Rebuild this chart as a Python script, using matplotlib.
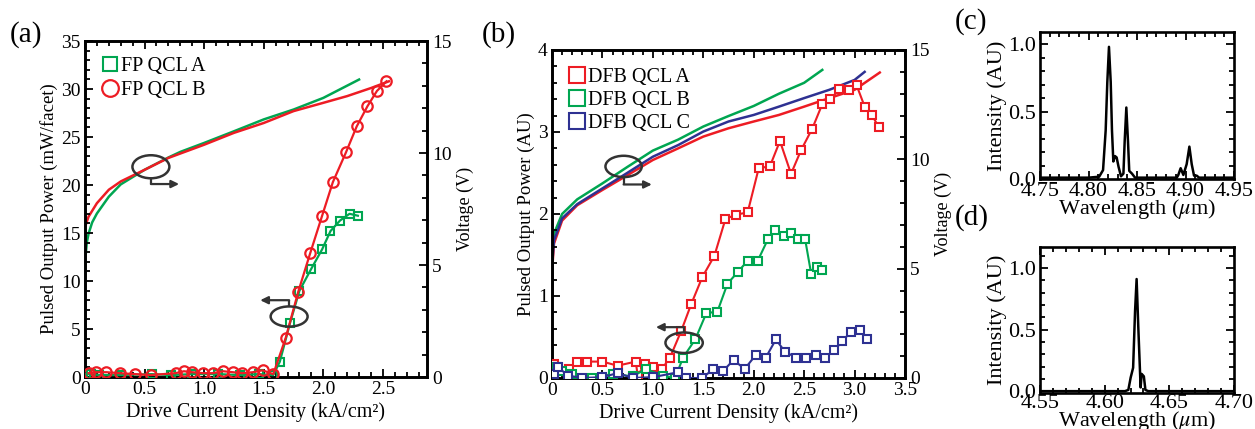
import matplotlib
matplotlib.use("Agg")
import matplotlib.pyplot as plt
from matplotlib.patches import Ellipse
from matplotlib.ticker import MultipleLocator, FuncFormatter

plt.rcParams['font.family'] = ['Liberation Serif', 'DejaVu Serif']
plt.rcParams['mathtext.fontset'] = 'stix'

RED = '#ED1C24'
GREEN = '#00A651'
BLUE = '#2E3192'

# ---------------- Panel (a) data ----------------
a_lab = ['FP QCL A', 'FP QCL B']
# L-I (left axis, mW/facet)
a_LI_A_x = [0.01, 0.05, 0.12, 0.30, 0.56, 0.72, 0.90, 1.12, 1.30, 1.46, 1.58, 1.635, 1.72, 1.80, 1.90, 1.99, 2.06, 2.14, 2.22, 2.29]
a_LI_A_y = [0.3, 0.3, 0.2, 0.2, 0.3, 0.2, 0.3, 0.3, 0.2, 0.3, 0.2, 1.6, 5.6, 9.0, 11.3, 13.3, 15.2, 16.3, 17.0, 16.8]
a_LI_B_x = [0.03, 0.09, 0.18, 0.29, 0.42, 0.55, 0.76, 0.83, 0.90, 0.99, 1.07, 1.16, 1.24, 1.32, 1.41, 1.49, 1.58, 1.685, 1.79, 1.89, 1.99, 2.08, 2.19, 2.28, 2.37, 2.45, 2.53]
a_LI_B_y = [0.4, 0.5, 0.5, 0.4, 0.3, 0.2, 0.4, 0.6, 0.5, 0.4, 0.4, 0.6, 0.5, 0.4, 0.5, 0.7, 0.3, 4.1, 8.9, 12.9, 16.8, 20.3, 23.4, 26.1, 28.2, 29.8, 30.8]
# I-V (right axis, V)
a_IV_A_x = [0.0, 0.005, 0.015, 0.03, 0.06, 0.1, 0.2, 0.3, 0.5, 0.7, 0.8, 1.0, 1.25, 1.5, 1.75, 2.0, 2.3]
a_IV_A_y = [4.5, 5.4, 6.0, 6.4, 6.9, 7.3, 8.05, 8.6, 9.25, 9.8, 10.05, 10.45, 10.97, 11.5, 11.94, 12.46, 13.28]
a_IV_B_x = [0.0, 0.03, 0.1, 0.2, 0.3, 0.5, 0.7, 1.0, 1.25, 1.5, 1.75, 2.0, 2.2, 2.4, 2.55]
a_IV_B_y = [6.7, 7.16, 7.76, 8.36, 8.73, 9.25, 9.78, 10.37, 10.9, 11.34, 11.87, 12.24, 12.54, 12.9, 13.2]

# ---------------- Panel (b) data ----------------
b_lab = ['DFB QCL A', 'DFB QCL B', 'DFB QCL C']
b_LI_A_x = [0.02, 0.05, 0.17, 0.25, 0.35, 0.50, 0.65, 0.83, 0.85, 0.92, 1.00, 1.09, 1.17, 1.28, 1.38, 1.49, 1.61, 1.72, 1.82, 1.94, 2.05, 2.16, 2.26, 2.37, 2.47, 2.58, 2.68, 2.76, 2.85, 2.94, 3.02, 3.10, 3.17, 3.24]
b_LI_A_y = [0.17, 0.13, 0.11, 0.20, 0.20, 0.20, 0.15, 0.20, 0.03, 0.17, 0.14, 0.11, 0.25, 0.57, 0.90, 1.23, 1.49, 1.94, 1.99, 2.02, 2.56, 2.58, 2.89, 2.49, 2.78, 3.04, 3.34, 3.40, 3.52, 3.51, 3.57, 3.31, 3.21, 3.06]
b_LI_B_x = [0.04, 0.10, 0.20, 0.40, 0.60, 0.80, 0.93, 1.10, 1.22, 1.30, 1.42, 1.53, 1.64, 1.74, 1.84, 1.94, 2.04, 2.14, 2.21, 2.30, 2.37, 2.44, 2.51, 2.57, 2.63, 2.68]
b_LI_B_y = [0.13, 0.08, 0.05, 0.00, 0.05, 0.02, 0.11, 0.03, 0.00, 0.25, 0.47, 0.79, 0.81, 1.15, 1.29, 1.43, 1.43, 1.69, 1.80, 1.73, 1.77, 1.69, 1.69, 1.27, 1.35, 1.32]
b_LI_C_x = [0.02, 0.06, 0.16, 0.30, 0.50, 0.65, 0.80, 1.00, 1.25, 1.33, 1.49, 1.60, 1.70, 1.80, 1.91, 2.02, 2.12, 2.22, 2.31, 2.42, 2.52, 2.62, 2.71, 2.80, 2.88, 2.96, 3.05, 3.12]
b_LI_C_y = [0.05, 0.13, 0.03, 0.00, 0.01, 0.06, 0.00, 0.01, 0.07, 0.00, 0.00, 0.11, 0.09, 0.22, 0.11, 0.28, 0.25, 0.47, 0.32, 0.25, 0.25, 0.28, 0.25, 0.34, 0.45, 0.56, 0.58, 0.48]
b_IV_A_x = [0.0, 0.005, 0.02, 0.1, 0.25, 0.5, 0.75, 1.0, 1.25, 1.5, 1.75, 2.0, 2.25, 2.5, 2.75, 3.0, 3.25]
b_IV_A_y = [3.6, 5.2, 6.15, 7.2, 7.9, 8.6, 9.28, 9.97, 10.5, 11.04, 11.42, 11.73, 12.03, 12.41, 12.8, 13.18, 13.97]
b_IV_B_x = [0.0, 0.005, 0.02, 0.1, 0.25, 0.5, 0.75, 1.0, 1.25, 1.5, 1.75, 2.0, 2.25, 2.5, 2.68]
b_IV_B_y = [4.2, 5.7, 6.6, 7.5, 8.17, 8.9, 9.66, 10.4, 10.9, 11.5, 11.98, 12.44, 13.0, 13.5, 14.09]
b_IV_C_x = [0.0, 0.005, 0.02, 0.1, 0.25, 0.5, 0.75, 1.0, 1.25, 1.5, 1.75, 2.0, 2.25, 2.5, 2.75, 3.0, 3.1]
b_IV_C_y = [3.9, 5.4, 6.3, 7.3, 7.95, 8.67, 9.39, 10.12, 10.65, 11.27, 11.73, 12.03, 12.41, 12.8, 13.18, 13.63, 14.0]

# ---------------- Panel (c) and (d) spectra ----------------
c_wl = [4.75, 4.80, 4.811, 4.815, 4.8177, 4.8194, 4.8211, 4.8229, 4.8242, 4.8256, 4.8273, 4.829, 4.831, 4.8335, 4.836,
        4.8373, 4.839, 4.8407, 4.842, 4.8448, 4.848, 4.891, 4.8926, 4.895, 4.8978, 4.9012, 4.904, 4.9064, 4.9088,
        4.9115, 4.914, 4.95]
c_int = [0.01, 0.01, 0.017, 0.066, 0.36, 0.72, 0.98, 0.72, 0.36, 0.13, 0.17, 0.16, 0.09, 0.02, 0.04,
         0.28, 0.53, 0.28, 0.06, 0.04, 0.01, 0.01, 0.03, 0.08, 0.03, 0.11, 0.24, 0.11, 0.025,
         0.025, 0.01, 0.01]
d_wl = [4.55, 4.6157, 4.6183, 4.6201, 4.622, 4.6235, 4.6247, 4.626, 4.6278, 4.6286, 4.6303, 4.6315, 4.6337, 4.70]
d_int = [0.0, 0.0, 0.01, 0.11, 0.19, 0.65, 0.91, 0.52, 0.03, 0.14, 0.12, 0.01, 0.0, 0.0]

W, H = 1255, 429
fig = plt.figure(figsize=(W / 100, H / 100), dpi=100)


def rect(l, r, t, b):
    return [l / W, (H - b) / H, (r - l) / W, (b - t) / H]


SP_LW = 1.9
xfmt = FuncFormatter(lambda v, p: '0' if abs(v) < 1e-9 else f'{v:.1f}')


def style(ax, xmaj, xmin, ymaj, ymin, size=14, right=True):
    ax.xaxis.set_major_locator(MultipleLocator(xmaj))
    ax.xaxis.set_minor_locator(MultipleLocator(xmin))
    ax.yaxis.set_major_locator(MultipleLocator(ymaj))
    ax.yaxis.set_minor_locator(MultipleLocator(ymin))
    ax.tick_params(which='both', direction='in', top=True, right=right, labelsize=size, width=1.3, pad=3)
    ax.tick_params(which='major', length=6)
    ax.tick_params(which='minor', length=3.5)
    for s in ax.spines.values():
        s.set_linewidth(SP_LW)


def bracket(ax, pts, lw=1.6):
    xs = [p[0] for p in pts]
    ys = [p[1] for p in pts]
    ax.plot(xs[:-1], ys[:-1], color='#333333', lw=lw, solid_capstyle='butt', zorder=6)
    ax.annotate('', xy=pts[-1], xytext=pts[-2],
                arrowprops=dict(arrowstyle='-|>,head_length=0.45,head_width=0.22', color='#333333', lw=lw,
                                shrinkA=0, shrinkB=0), zorder=6)


def right_axis(ax2):
    ax2.set_ylim(0, 15)
    ax2.yaxis.set_major_locator(MultipleLocator(5))
    ax2.yaxis.set_minor_locator(MultipleLocator(1))
    ax2.tick_params(which='both', direction='in', labelsize=14, width=1.3)
    ax2.tick_params(which='major', length=6)
    ax2.tick_params(which='minor', length=3.5)
    for s in ax2.spines.values():
        s.set_linewidth(SP_LW)


# ===== Panel (a) =====
axa = fig.add_axes(rect(85, 427, 41, 377))
axa2 = axa.twinx()
axa2.plot(a_IV_A_x, a_IV_A_y, color=GREEN, lw=1.8)
axa2.plot(a_IV_B_x, a_IV_B_y, color=RED, lw=1.8)
right_axis(axa2)
axa.plot(a_LI_A_x, a_LI_A_y, color=GREEN, lw=1.6, marker='s', ms=6, mfc='none', mec=GREEN, mew=1.5, label=a_lab[0], zorder=4)
axa.plot(a_LI_B_x, a_LI_B_y, color=RED, lw=1.6, marker='o', ms=7.5, mfc='none', mec=RED, mew=1.6, label=a_lab[1], zorder=4)
axa.set_xlim(0, 2.87)
axa.set_ylim(0, 35)
style(axa, 0.5, 0.1, 5, 1, right=False)
axa.xaxis.set_major_formatter(xfmt)
axa.set_zorder(axa2.get_zorder() + 1)
axa.patch.set_visible(False)
axa.set_xlabel('Drive Current Density (kA/cm²)', fontsize=14.5, labelpad=3)
axa.set_ylabel('Pulsed Output Power (mW/facet)', fontsize=13.5, labelpad=2)
axa2.set_ylabel('Voltage (V)', fontsize=13, labelpad=4)
axa.add_patch(Ellipse((0.553, 21.9), 0.31, 2.4, fill=False, ec='#333333', lw=1.8, zorder=6))
bracket(axa, [(0.553, 20.7), (0.553, 20.1), (0.79, 20.1)])
axa.add_patch(Ellipse((1.713, 6.3), 0.31, 2.1, fill=False, ec='#333333', lw=1.8, zorder=6))
bracket(axa, [(1.713, 7.35), (1.713, 8.0), (1.47, 8.0)])
leg = axa.legend(loc='upper left', bbox_to_anchor=(0.0, 1.0), frameon=False, fontsize=14.5,
                 handlelength=0.9, handletextpad=0.1, borderaxespad=0.4, labelspacing=0.25, markerscale=1.6)
for h in leg.legend_handles:
    h.set_linestyle('none')
fig.text(10 / W, 1 - 35 / H, '(a)', fontsize=21, va='center', ha='left')

# ===== Panel (b) =====
axb = fig.add_axes(rect(552, 905, 50, 378))
axb2 = axb.twinx()
axb2.plot(b_IV_A_x, b_IV_A_y, color=RED, lw=1.8)
axb2.plot(b_IV_B_x, b_IV_B_y, color=GREEN, lw=1.8)
axb2.plot(b_IV_C_x, b_IV_C_y, color=BLUE, lw=1.8)
right_axis(axb2)
for xs, ys, c, lab in [(b_LI_A_x, b_LI_A_y, RED, b_lab[0]), (b_LI_B_x, b_LI_B_y, GREEN, b_lab[1]),
                       (b_LI_C_x, b_LI_C_y, BLUE, b_lab[2])]:
    axb.plot(xs, ys, color=c, lw=1.5, marker='s', ms=6, mfc='white', mec=c, mew=1.5, label=lab, zorder=4)
axb.set_xlim(0, 3.5)
axb.set_ylim(0, 4)
style(axb, 0.5, 0.1, 1, 0.2, right=False)
axb.xaxis.set_major_formatter(xfmt)
axb.set_zorder(axb2.get_zorder() + 1)
axb.patch.set_visible(False)
axb.set_xlabel('Drive Current Density (kA/cm²)', fontsize=14.5, labelpad=3)
axb.set_ylabel('Pulsed Output Power (AU)', fontsize=13.5, labelpad=2)
axb2.set_ylabel('Voltage (V)', fontsize=13, labelpad=4)
axb.add_patch(Ellipse((0.71, 2.58), 0.36, 0.26, fill=False, ec='#333333', lw=1.8, zorder=6))
bracket(axb, [(0.71, 2.45), (0.71, 2.36), (0.99, 2.36)])
axb.add_patch(Ellipse((1.31, 0.43), 0.37, 0.25, fill=False, ec='#333333', lw=1.8, zorder=6))
bracket(axb, [(1.31, 0.555), (1.31, 0.62), (1.03, 0.62)])
leg = axb.legend(loc='upper left', bbox_to_anchor=(0.0, 0.995), frameon=False, fontsize=14.5,
                 handlelength=0.9, handletextpad=0.1, borderaxespad=0.4, labelspacing=0.2, markerscale=1.9)
for h in leg.legend_handles:
    h.set_linestyle('none')
fig.text(482 / W, 1 - 35 / H, '(b)', fontsize=21, va='center', ha='left')

# ===== Panel (c) =====
axc = fig.add_axes(rect(1040, 1234, 32, 179))
axc.plot(c_wl, c_int, color='black', lw=1.8)
axc.set_xlim(4.75, 4.95)
axc.set_ylim(0.0, 1.09)
style(axc, 0.05, 0.01, 0.5, 0.1, size=16)
axc.set_xticks([4.75, 4.80, 4.85, 4.90, 4.95])
axc.set_xticklabels(['4.75', '4.80', '4.85', '4.90', '4.95'])
axc.tick_params(axis='x', pad=2)
axc.set_xlabel('Wavelength ($\\mu$m)', fontsize=16, labelpad=-3)
axc.set_ylabel('Intensity (AU)', fontsize=16, labelpad=1)
fig.text(955 / W, 1 - 22 / H, '(c)', fontsize=21, va='center', ha='left')

# ===== Panel (d) =====
axd = fig.add_axes(rect(1040, 1234, 247, 393))
axd.plot(d_wl, d_int, color='black', lw=1.8)
axd.set_xlim(4.55, 4.70)
axd.set_ylim(-0.015, 1.17)
style(axd, 0.05, 0.01, 0.5, 0.1, size=16)
axd.set_xticks([4.55, 4.60, 4.65, 4.70])
axd.set_xticklabels(['4.55', '4.60', '4.65', '4.70'])
axd.tick_params(axis='x', pad=1)
axd.set_xlabel('Wavelength ($\\mu$m)', fontsize=16, labelpad=-3)
axd.set_ylabel('Intensity (AU)', fontsize=16, labelpad=1)
fig.text(955 / W, 1 - 218 / H, '(d)', fontsize=21, va='center', ha='left')

fig.savefig('out.png', dpi=100)
